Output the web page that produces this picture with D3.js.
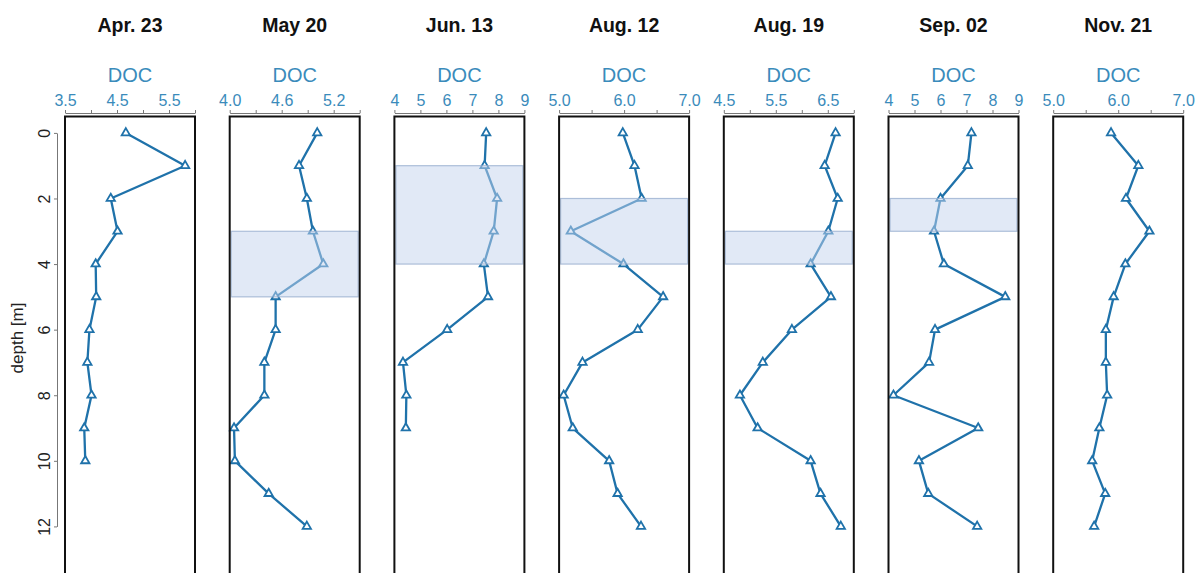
<!DOCTYPE html>
<html>
<head>
<meta charset="utf-8">
<script src="https://cdn.jsdelivr.net/npm/d3@7/dist/d3.min.js"></script>
<style>
  html, body { margin: 0; padding: 0; background: #fff; }
  svg { display: block; font-family: "Liberation Sans", Arial, sans-serif; }
</style>
</head>
<body>
<svg id="chart" width="1198" height="573"></svg>
<script>
// Sampling dates (one profile panel each)
const dates = ["Apr. 23", "May 20", "Jun. 13", "Aug. 12", "Aug. 19", "Sep. 02", "Nov. 21"];

// Sampling depths [m]
const depths = [0, 1, 2, 3, 4, 5, 6, 7, 8, 9, 10, 11, 12];

// DOC profiles per date (values listed from the surface down)
const docApr23 = [4.67, 5.81, 4.38, 4.51, 4.09, 4.10, 3.97, 3.93, 4.01, 3.87, 3.89];
const docMay20 = [5.01, 4.80, 4.89, 4.96, 5.08, 4.53, 4.53, 4.40, 4.40, 4.05, 4.06, 4.45, 4.89];
const docJun13 = [7.53, 7.47, 7.95, 7.82, 7.44, 7.60, 6.03, 4.33, 4.46, 4.44];
const docAug12 = [5.98, 6.16, 6.27, 5.18, 5.99, 6.60, 6.21, 5.36, 5.07, 5.21, 5.77, 5.90, 6.26];
const docAug19 = [6.65, 6.44, 6.69, 6.51, 6.17, 6.56, 5.81, 5.25, 4.81, 5.15, 6.17, 6.36, 6.75];
const docSep02 = [7.19, 7.05, 6.00, 5.75, 6.13, 8.49, 5.79, 5.56, 4.19, 7.45, 5.17, 5.53, 7.41];
const docNov21 = [5.89, 6.31, 6.12, 6.48, 6.11, 5.93, 5.81, 5.81, 5.83, 5.71, 5.60, 5.80, 5.63];
const docSeries = [docApr23, docMay20, docJun13, docAug12, docAug19, docSep02, docNov21];

// DOC axis ranges, tick positions and labelled ticks
const docDomains = [[3.5, 6.0], [4.0, 5.5], [4, 9], [5.0, 7.0], [4.5, 7.0], [4, 9], [5.0, 7.0]];
const docTicks = [
  [3.5, 4.0, 4.5, 5.0, 5.5, 6.0],
  [4.0, 4.3, 4.6, 4.9, 5.2, 5.5],
  [4, 5, 6, 7, 8, 9],
  [5.0, 5.5, 6.0, 6.5, 7.0],
  [4.5, 5.0, 5.5, 6.0, 6.5, 7.0],
  [4, 5, 6, 7, 8, 9],
  [5.0, 5.5, 6.0, 6.5, 7.0]
];
const docTickLabels = [
  ["3.5", "4.5", "5.5"],
  ["4.0", "4.6", "5.2"],
  ["4", "5", "6", "7", "8", "9"],
  ["5.0", "6.0", "7.0"],
  ["4.5", "5.5", "6.5"],
  ["4", "5", "6", "7", "8", "9"],
  ["5.0", "6.0", "7.0"]
];

// Highlighted depth layers [top, bottom] per panel (null = none)
const layers = [null, [3, 5], [1, 4], [2, 4], [3, 4], [2, 3], null];

// Depth axis ticks
const depthTicks = [0, 2, 4, 6, 8, 10, 12];

const svg = d3.select("#chart");
const lineColor = "#1f72aa";
const docColor = "#3a8bbb";

const panelLeft = 65, panelStep = 164.7, panelWidth = 130;
const y = d3.scaleLinear().domain([-0.5, 14]).range([116.5, 592]);

// Shared depth axis on the far left
const yAxisScale = d3.scaleLinear().domain([0, 12]).range([y(0), y(12)]);
const yAxisG = svg.append("g")
  .attr("transform", "translate(57,0)")
  .call(d3.axisLeft(yAxisScale).tickValues(depthTicks).tickSize(3).tickSizeOuter(0).tickPadding(5));
yAxisG.select(".domain").attr("stroke", "#777").attr("stroke-width", 1);
yAxisG.selectAll(".tick line").attr("stroke", "#777");
yAxisG.selectAll(".tick text")
  .attr("font-size", 16)
  .attr("fill", "#222")
  .attr("transform", "rotate(-90)")
  .attr("x", 0)
  .attr("y", -13)
  .attr("dy", "0.35em")
  .attr("text-anchor", "middle");

svg.append("text")
  .attr("transform", "translate(23,338) rotate(-90)")
  .attr("text-anchor", "middle")
  .attr("font-size", 17)
  .attr("fill", "#222")
  .text("depth [m]");

const triangle = d3.symbol().type(d3.symbolTriangle).size(30);

dates.forEach((date, i) => {
  const x0 = panelLeft + i * panelStep;
  const x = d3.scaleLinear().domain(docDomains[i]).range([x0, x0 + panelWidth]);
  const values = docSeries[i];
  const pts = values.map((v, k) => ({ v, d: depths[k] }));
  const g = svg.append("g");

  // Date title
  g.append("text")
    .attr("x", x0 + panelWidth / 2)
    .attr("y", 32)
    .attr("text-anchor", "middle")
    .attr("font-size", 19.5)
    .attr("font-weight", "bold")
    .attr("fill", "#111")
    .text(date);

  // Variable name
  g.append("text")
    .attr("x", x0 + panelWidth / 2)
    .attr("y", 82)
    .attr("text-anchor", "middle")
    .attr("font-size", 20)
    .attr("fill", docColor)
    .text("DOC");

  // DOC axis above the frame
  const labels = docTickLabels[i];
  const fmt = v => {
    const s = v.toFixed(labels[0].includes(".") ? 1 : 0);
    return labels.includes(s) ? s : "";
  };
  const xAxisG = g.append("g")
    .attr("transform", "translate(0,113)")
    .call(d3.axisTop(x).tickValues(docTicks[i]).tickSize(3).tickSizeOuter(0).tickPadding(4).tickFormat(fmt));
  xAxisG.select(".domain").attr("stroke", "#777").attr("stroke-width", 1);
  xAxisG.selectAll(".tick line").attr("stroke", "#777");
  xAxisG.selectAll(".tick text").attr("font-size", 16).attr("fill", docColor)
    .attr("font-family", "'Liberation Sans', Arial, sans-serif");

  // Profile line
  const line = d3.line().x(p => x(p.v)).y(p => y(p.d));
  g.append("path")
    .datum(pts)
    .attr("d", line)
    .attr("fill", "none")
    .attr("stroke", lineColor)
    .attr("stroke-width", 2.3)
    .attr("stroke-linejoin", "round");

  // Triangle markers
  g.selectAll(".mk")
    .data(pts)
    .join("path")
    .attr("class", "mk")
    .attr("d", triangle)
    .attr("transform", p => `translate(${x(p.v)},${y(p.d)})`)
    .attr("fill", "#fff")
    .attr("stroke", lineColor)
    .attr("stroke-width", 1.8);

  // Highlighted layer
  if (layers[i]) {
    const [top, bottom] = layers[i];
    g.append("rect")
      .attr("x", x0 + 1.5)
      .attr("y", y(top))
      .attr("width", panelWidth - 3)
      .attr("height", y(bottom) - y(top))
      .attr("fill", "rgba(196,212,238,0.5)")
      .attr("stroke", "rgba(150,172,205,0.75)")
      .attr("stroke-width", 1.2);
  }

  // Panel frame
  g.append("rect")
    .attr("x", x0)
    .attr("y", y(-0.5))
    .attr("width", panelWidth)
    .attr("height", y(14) - y(-0.5))
    .attr("fill", "none")
    .attr("stroke", "#111")
    .attr("stroke-width", 2);
});
</script>
</body>
</html>
